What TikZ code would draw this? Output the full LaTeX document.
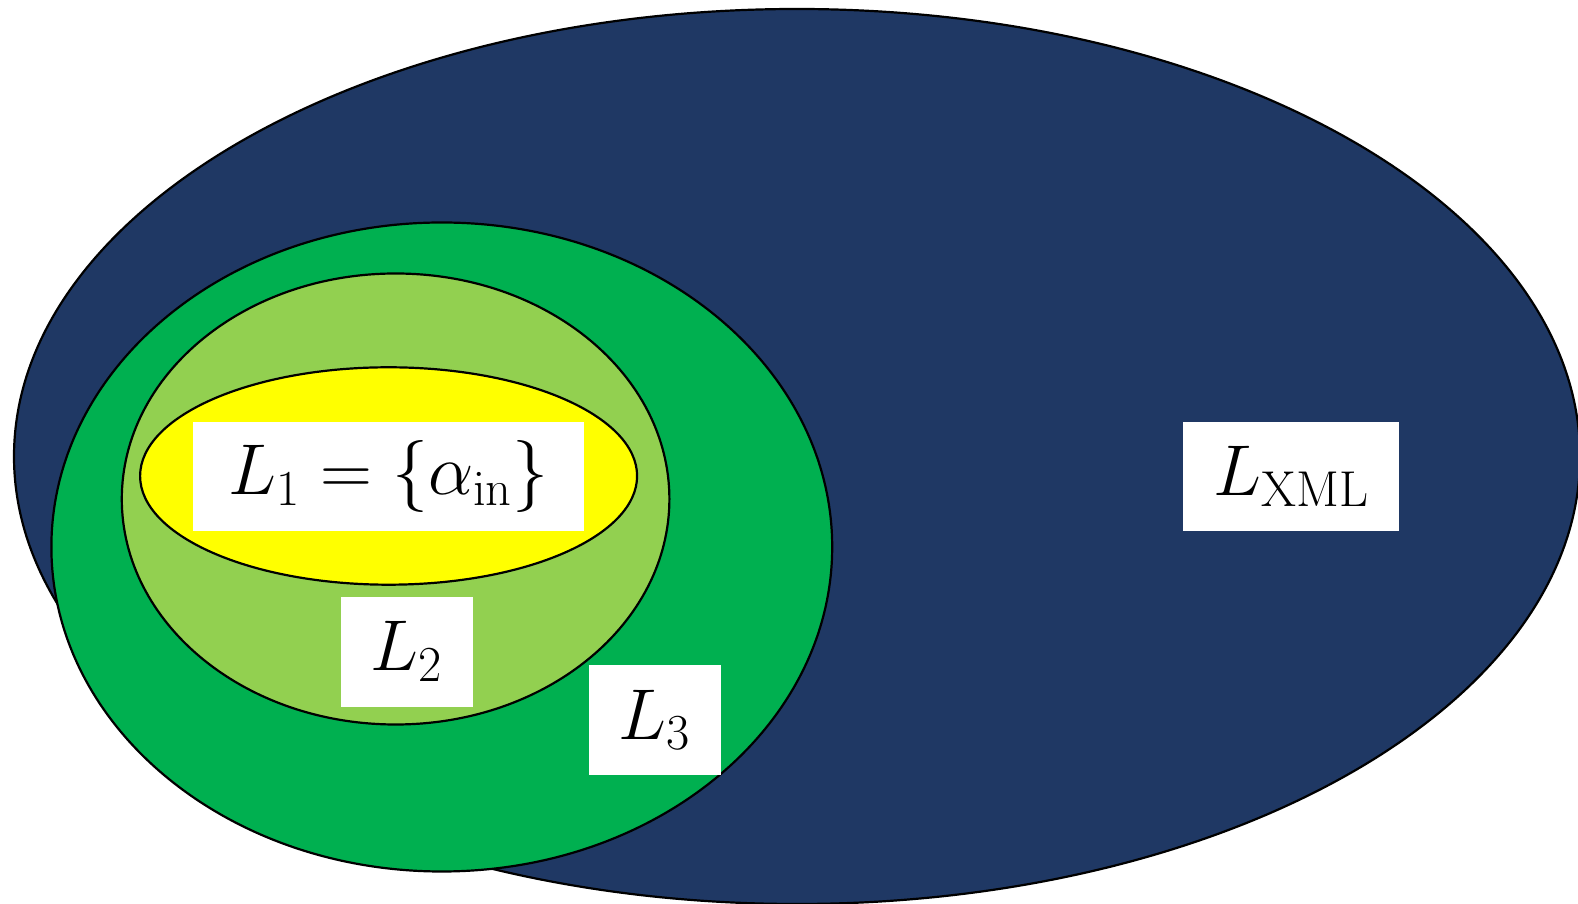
\documentclass[tikz,border=0pt]{standalone}
\usepackage{fix-cm}
\usetikzlibrary{shapes.geometric}
\definecolor{xmlblue}{RGB}{31,56,100}
\definecolor{lthree}{RGB}{0,176,80}
\definecolor{ltwo}{RGB}{146,208,80}
\definecolor{lone}{RGB}{255,255,0}
\begin{document}
\begin{tikzpicture}[x=1pt,y=1pt,
        set/.style={draw,ellipse,line width=1.1pt,inner sep=0pt},
        lang/.style={fill=white,inner sep=0pt,font=\fontsize{36}{43}\selectfont}]
        \useasboundingbox (0,0) rectangle (789,452);
        % Sets
            \node[set,fill=xmlblue,minimum width=783pt,minimum height=447.5pt] (XML) at (398.5,223.75) {};
            \node[set,fill=lthree,minimum width=390.4pt,minimum height=324.5pt] (L3) at (220.9,178.5) {};
            \node[set,fill=ltwo,minimum width=273.8pt,minimum height=225.5pt] (L2) at (197.8,202.5) {};
            \node[set,fill=lone,minimum width=248.5pt,minimum height=108.7pt] (L1) at (194.3,214) {};
        % Labels
            \node[lang,minimum width=195.4pt,minimum height=54.1pt] (L1label) at (194.3,213.7) {\(L_1=\{\alpha_{\mathrm{in}}\}\)};
            \node[lang,minimum width=66pt,minimum height=54.8pt] (L2label) at (203.5,126.1) {\(L_2\)};
            \node[lang,minimum width=66pt,minimum height=55pt] (L3label) at (327.3,92) {\(L_3\)};
            \node[lang,minimum width=108.2pt,minimum height=54.4pt] (XMLlabel) at (645.6,213.7) {\(L_{\mathrm{XML}}\)};
        \end{tikzpicture}
\end{document}
